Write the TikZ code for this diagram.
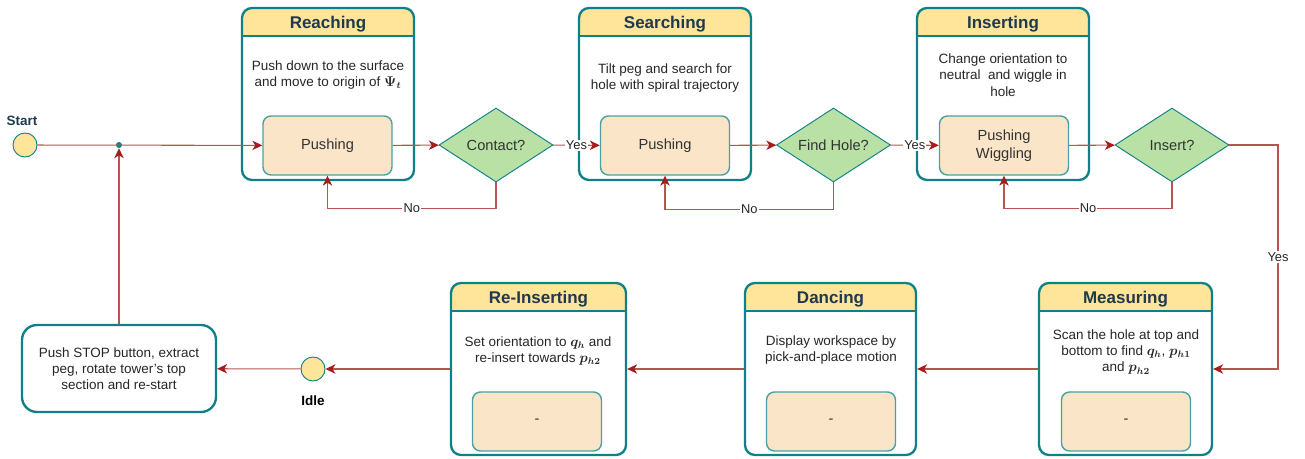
\documentclass[tikz,border=0pt]{standalone}
\usepackage{fontspec}
\setmainfont{Liberation Sans}
\usepackage{bm}
\usetikzlibrary{arrows.meta}
\usetikzlibrary{shapes.geometric}

\newlength\pxu
\setlength\pxu{0.03cm}
\definecolor{tealc}{HTML}{0E8088}
\definecolor{titlefill}{HTML}{FFE599}
\definecolor{innerfill}{HTML}{FAE5C8}
\definecolor{decfill}{HTML}{B9E0A5}
\definecolor{linered}{HTML}{B85450}
\definecolor{tipred}{HTML}{A61B1B}
\definecolor{slate}{HTML}{1F3A4D}

\begin{document}
\begin{tikzpicture}[x=0.03cm,y=-0.03cm,
    state/.style={draw=tealc,line width=2pt,rounded corners=10*\pxu,minimum height=172*\pxu,inner sep=0pt},
    titletext/.style={font=\fontsize{14.5}{16}\selectfont\bfseries,text=slate,anchor=base},
    desc/.style={font=\fontsize{11.5}{14}\selectfont,align=center,text=black!85},
    inner/.style={draw=tealc!75,fill=innerfill,line width=1.2pt,rounded corners=8*\pxu,
        minimum width=129*\pxu,minimum height=59*\pxu,align=center,
        font=\fontsize{12.5}{15}\selectfont,text=black!80},
    decision/.style={diamond,aspect=1.54,draw=tealc,fill=decfill,line width=0.8pt,inner sep=0pt,
        minimum width=114*\pxu,minimum height=74*\pxu,font=\fontsize{12.5}{15}\selectfont,text=black!80},
    pin/.style={circle,draw=tealc,fill=titlefill,line width=0.8pt,minimum size=24*\pxu,inner sep=0pt},
    pinlabel/.style={font=\fontsize{11.5}{14}\selectfont\bfseries},
    flow/.style={draw=linered,line width=0.9pt,arrows={-Stealth[length=8.5pt,width=8pt,inset=2.5pt,color=tipred]}},
    lbl/.style={fill=white,inner sep=1pt,font=\fontsize{11}{13}\selectfont,text=black!85}]
  \useasboundingbox (0,0) rectangle (1305,459);

  % state boxes with title band
  \foreach \nm/\cx/\cy/\w/\ti in {reach/328/94/172/Reaching, search/665/94/172/Searching,
      insert/1003/94/172/Inserting, meas/1125.5/369/173/Measuring,
      dance/830.5/369/171/Dancing, reins/538.5/369/175/Re-Inserting}{
    \begin{scope}
      \clip (\cx-\w/2-5,\cy-92) rectangle (\cx+\w/2+5,\cy-58);
      \fill[titlefill,rounded corners=10*\pxu] (\cx-\w/2,\cy-86) rectangle (\cx+\w/2,\cy+86);
    \end{scope}
    \node[state,minimum width=\w*\pxu] (\nm) at (\cx,\cy) {};
    \draw[tealc,line width=2pt] (\cx-\w/2,\cy-58) -- (\cx+\w/2,\cy-58);
    \node[titletext] (\nm-t) at (\cx,\cy-65) {\ti};
  }

  \node[desc] (reach-d) at (328,75) {Push down to the surface\\and move to origin of $\bm{\Psi_t}$};
  \node[desc] (search-d) at (665,78) {Tilt peg and search for\\hole with spiral trajectory};
  \node[desc] (insert-d) at (1003,75) {Change orientation to\\neutral\ \ and wiggle in\\hole};
  \node[desc] (meas-d) at (1126,352) {Scan the hole at top and\\bottom to find $\bm{q_h}$, $\bm{p_{h1}}$\\and $\bm{p_{h2}}$};
  \node[desc] (dance-d) at (831,350) {Display workspace by\\pick-and-place motion};
  \node[desc] (reins-d) at (538,351) {Set orientation to $\bm{q_h}$ and\\re-insert towards $\bm{p_{h2}}$};

  \node[inner] (pushA) at (327.5,145.5) {Pushing};
  \node[inner] (pushB) at (665,145.5) {Pushing};
  \node[inner] (pushC) at (1004,145.5) {Pushing\\Wiggling};
  \node[inner] (measI) at (1126,421.5) {-};
  \node[inner] (danceI) at (831,421.5) {-};
  \node[inner] (reinsI) at (537,421.5) {-};

  \node[decision] (contact) at (496,145) {Contact?};
  \node[decision] (hole) at (833.5,145) {Find Hole?};
  \node[decision] (insq) at (1172,145) {Insert?};

  \node[pin] (start) at (25,145) {};
  \node[pinlabel,text=slate] (start-l) at (22,121) {Start};
  \node[pin] (idle) at (313,369) {};
  \node[pinlabel] (idle-l) at (313,401) {Idle};
  \node[circle,fill=tealc,minimum size=6*\pxu,inner sep=0pt] (jn) at (119,145) {};

  \node[draw=tealc,line width=2pt,rounded corners=15*\pxu,minimum width=194*\pxu,minimum height=87*\pxu,
      align=center,font=\fontsize{11.5}{13.5}\selectfont,text=black!85] (stop) at (119,368.5)
      {Push STOP button, extract\\peg, rotate tower's top\\section and re-start};
  \coordinate (turn) at (1278,369);

  % connectors
  \draw[flow] (start) -- (pushA);
  \draw[flow] (pushA) -- (contact);
  \draw[flow] (contact) -- node[lbl] {Yes} (pushB);
  \draw[flow] (contact.south) -- ++(0,26) -| node[lbl,pos=0.25] {No} (pushA.south);
  \draw[flow] (pushB) -- (hole);
  \draw[flow] (hole) -- node[lbl] {Yes} (pushC);
  \draw[flow] (hole.south) -- ++(0,27) -| node[lbl,pos=0.25] {No} (pushB.south);
  \draw[flow] (pushC) -- (insq);
  \draw[flow] (insq.south) -- ++(0,26) -| node[lbl,pos=0.25] {No} (pushC.south);
  \draw[flow] (insq.east) -| node[lbl,pos=0.75] {Yes} (turn) -- (meas.east);
  \draw[flow] (meas) -- (dance);
  \draw[flow] (dance) -- (reins);
  \draw[flow] (reins) -- (idle);
  \draw[flow] (idle) -- (stop);
  \draw[flow] (stop) -- (jn);
\end{tikzpicture}
\end{document}
